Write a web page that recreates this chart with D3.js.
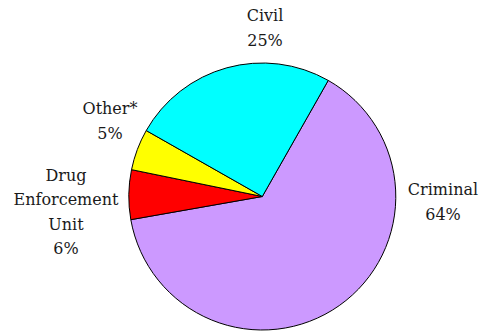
<!DOCTYPE html>
<html>
<head>
<meta charset="utf-8">
<script src="https://cdn.jsdelivr.net/npm/d3@7"></script>
<style>
  html, body { margin: 0; padding: 0; background: #fff; }
  svg { display: block; }
</style>
</head>
<body>
<svg id="chart" width="484" height="331"></svg>
<script>
// Caseload share by division (percent), clockwise from the first slice
const categories = ["Criminal", "Drug Enforcement Unit", "Other*", "Civil"];
const shares = [64, 6, 5, 25];
const colors = ["#CC99FF", "#FF0000", "#FFFF00", "#00FFFF"];

// Label text lines per slice
const labelLines = [
  ["Criminal"],
  ["Drug", "Enforcement", "Unit"],
  ["Other*"],
  ["Civil"]
];

// Layout
const width = 484, height = 331;
const cx = 262.3, cy = 196.5, radius = 133.5;
const startDeg = 29.6;
const fontFamily = "'DejaVu Serif', serif";
const fontSize = 16;
const lineGap = 24.5;
// first-line baseline anchor of each label block
const labelAnchor = [
  [443, 195],
  [66, 180.5],
  [110, 114],
  [265, 21]
];

const svg = d3.select("#chart");
const g = svg.append("g").attr("transform", `translate(${cx},${cy})`);

const data = categories.map((c, i) => ({ name: c, value: shares[i], color: colors[i], lines: labelLines[i], anchor: labelAnchor[i] }));

const start = startDeg * Math.PI / 180;
const pie = d3.pie()
  .sort(null)
  .value(d => d.value)
  .startAngle(start)
  .endAngle(start + 2 * Math.PI);

const arc = d3.arc().innerRadius(0).outerRadius(radius);

g.selectAll("path.slice")
  .data(pie(data))
  .join("path")
  .attr("class", "slice")
  .attr("d", arc)
  .attr("fill", d => d.data.color)
  .attr("stroke", "#000")
  .attr("stroke-width", 1)
  .attr("stroke-linejoin", "round");

const labels = svg.selectAll("text.label")
  .data(data)
  .join("text")
  .attr("class", "label")
  .attr("text-anchor", "middle")
  .attr("font-family", fontFamily)
  .attr("font-size", fontSize)
  .attr("fill", "#1a1a1a");

labels.each(function(d) {
  const t = d3.select(this);
  const lines = d.lines.concat([d.value + "%"]);
  lines.forEach((ln, i) => {
    t.append("tspan")
      .attr("x", d.anchor[0])
      .attr("y", d.anchor[1] + i * lineGap)
      .text(ln);
  });
});
</script>
</body>
</html>
